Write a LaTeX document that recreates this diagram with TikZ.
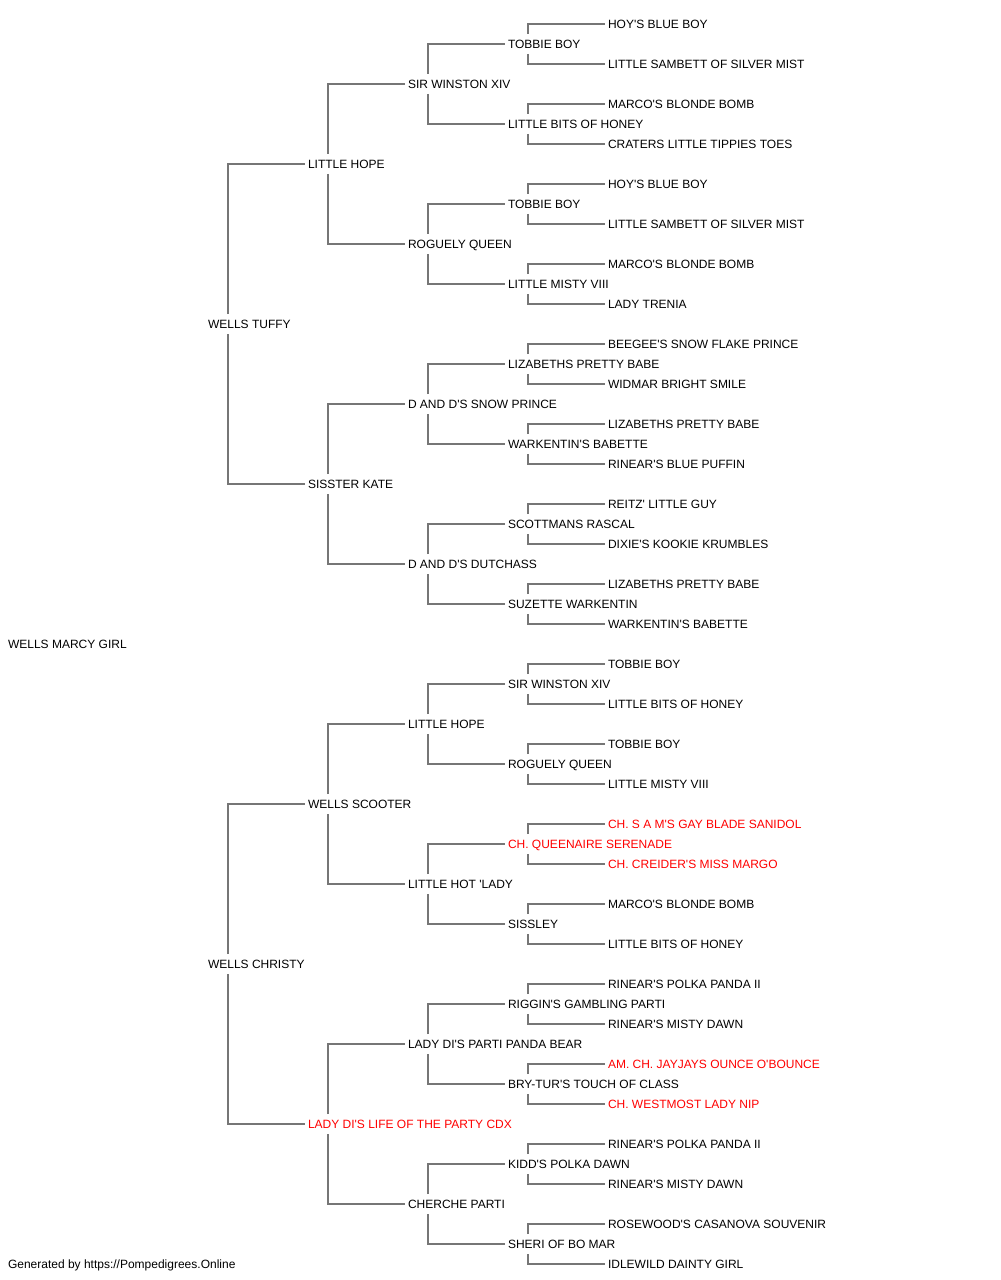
\documentclass[tikz,border=0pt]{standalone}
\usepackage{fontspec}
\setmainfont{Liberation Sans}[Ligatures=TeXOff]
\usetikzlibrary{calc}
\definecolor{conncol}{RGB}{118,118,118}
\tikzset{
  lab/.style={anchor=west, inner sep=0pt, outer sep=0pt, text height=6.45pt, text depth=0pt, font=\fontsize{9pt}{10pt}\selectfont},
  conn/.style={draw=conncol, line width=1.5pt},
}
\begin{document}
\begin{tikzpicture}[x=0.75pt, y=-0.75pt]
\useasboundingbox (0,0) rectangle (1000,1280);
% generation 0
\node[lab] (g0-0) at (8,644) {WELLS MARCY GIRL};
% generation 1
\foreach \t/\c [count=\i from 0] in {WELLS TUFFY/black, WELLS CHRISTY/black}
  \node[lab, text=\c] (g1-\i) at (208,{324+640*\i}) {\t};
% generation 2
\foreach \t/\c [count=\i from 0] in {LITTLE HOPE/black, SISSTER KATE/black, WELLS SCOOTER/black, LADY DI'S LIFE OF THE PARTY CDX/red}
  \node[lab, text=\c] (g2-\i) at (308,{164+320*\i}) {\t};
% generation 3
\foreach \t/\c [count=\i from 0] in {SIR WINSTON XIV/black, ROGUELY QUEEN/black, D AND D'S SNOW PRINCE/black, D AND D'S DUTCHASS/black, LITTLE HOPE/black, LITTLE HOT 'LADY/black, LADY DI'S PARTI PANDA BEAR/black, CHERCHE PARTI/black}
  \node[lab, text=\c] (g3-\i) at (408,{84+160*\i}) {\t};
% generation 4
\foreach \t/\c [count=\i from 0] in {TOBBIE BOY/black, LITTLE BITS OF HONEY/black, TOBBIE BOY/black, LITTLE MISTY VIII/black, LIZABETHS PRETTY BABE/black, WARKENTIN'S BABETTE/black, SCOTTMANS RASCAL/black, SUZETTE WARKENTIN/black, SIR WINSTON XIV/black, ROGUELY QUEEN/black, CH. QUEENAIRE SERENADE/red, SISSLEY/black, RIGGIN'S GAMBLING PARTI/black, BRY-TUR'S TOUCH OF CLASS/black, KIDD'S POLKA DAWN/black, SHERI OF BO MAR/black}
  \node[lab, text=\c] (g4-\i) at (508,{44+80*\i}) {\t};
% generation 5
\foreach \t/\c [count=\i from 0] in {HOY'S BLUE BOY/black, LITTLE SAMBETT OF SILVER MIST/black, MARCO'S BLONDE BOMB/black, CRATERS LITTLE TIPPIES TOES/black, HOY'S BLUE BOY/black, LITTLE SAMBETT OF SILVER MIST/black, MARCO'S BLONDE BOMB/black, LADY TRENIA/black, BEEGEE'S SNOW FLAKE PRINCE/black, WIDMAR BRIGHT SMILE/black, LIZABETHS PRETTY BABE/black, RINEAR'S BLUE PUFFIN/black, REITZ' LITTLE GUY/black, DIXIE'S KOOKIE KRUMBLES/black, LIZABETHS PRETTY BABE/black, WARKENTIN'S BABETTE/black, TOBBIE BOY/black, LITTLE BITS OF HONEY/black, TOBBIE BOY/black, LITTLE MISTY VIII/black, CH. S A M'S GAY BLADE SANIDOL/red, CH. CREIDER'S MISS MARGO/red, MARCO'S BLONDE BOMB/black, LITTLE BITS OF HONEY/black, RINEAR'S POLKA PANDA II/black, RINEAR'S MISTY DAWN/black, AM. CH. JAYJAYS OUNCE O'BOUNCE/red, CH. WESTMOST LADY NIP/red, RINEAR'S POLKA PANDA II/black, RINEAR'S MISTY DAWN/black, ROSEWOOD'S CASANOVA SOUVENIR/black, IDLEWILD DAINTY GIRL/black}
  \node[lab, text=\c] (g5-\i) at (608,{24+40*\i}) {\t};
% footer
\node[lab] (footer) at (8,1264) {Generated by https://Pompedigrees.Online};
% connectors (generation 1 to 5; the subject has none)
\foreach \g/\n in {1/1, 2/3, 3/7, 4/15} {
  \pgfmathtruncatemacro\h{\g+1}
  \foreach \i in {0,...,\n} {
    \pgfmathtruncatemacro\s{2*\i}
    \pgfmathtruncatemacro\d{2*\i+1}
    \draw[conn] ($(g\g-\i.west)+(20,-10)$) |- ([xshift=-2.25pt]g\h-\s.west);
    \draw[conn] ($(g\g-\i.west)+(20,10)$) |- ([xshift=-2.25pt]g\h-\d.west);
  }
}
\end{tikzpicture}
\end{document}
